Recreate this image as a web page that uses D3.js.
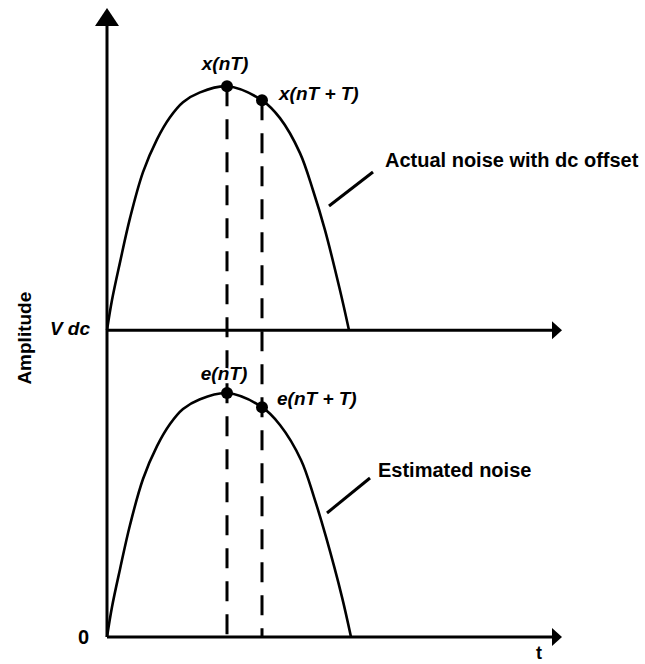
<!DOCTYPE html>
<html>
<head>
<meta charset="utf-8">
<script src="https://cdn.jsdelivr.net/npm/d3@7"></script>
<style>
  html, body { margin: 0; padding: 0; background: #fff; }
  svg { display: block; }
  text { font-family: "Liberation Sans", Arial, Helvetica, sans-serif; font-weight: bold; fill: #000; }
</style>
</head>
<body>
<svg id="chart" width="645" height="664"></svg>
<script>
// Sample times (in units of the sampling grid) along the noise burst
const actualTime     = [0, 0.05, 0.13, 0.23, 0.36, 0.50, 0.63, 0.76, 0.93, 1.20, 1.55, 1.73, 1.93, 2.06, 2.18, 2.33, 2.42];
// Noise amplitude above the dc level (relative to Vdc = 1)
const actualNoise    = [0, 0.098, 0.221, 0.365, 0.515, 0.622, 0.694, 0.743, 0.775, 0.795, 0.749, 0.691, 0.577, 0.456, 0.326, 0.130, 0];
const estimatedTime  = [0, 0.05, 0.13, 0.23, 0.36, 0.50, 0.63, 0.76, 0.93, 1.20, 1.55, 1.73, 1.94, 2.07, 2.19, 2.35, 2.44];
const estimatedNoise = [0, 0.098, 0.221, 0.365, 0.515, 0.622, 0.694, 0.743, 0.775, 0.795, 0.749, 0.691, 0.577, 0.456, 0.326, 0.130, 0];
const dcOffset = 1.0;
// Sample instants nT and nT + T (indices into the sample arrays)
const sampleIdx = [9, 10];
const sampleLabelsActual = ["x(nT)", "x(nT + T)"];
const sampleLabelsEst = ["e(nT)", "e(nT + T)"];
const yTickLabels = ["0", "V dc"];
const tMax = 4.55, aMax = 2.05;

const svg = d3.select("#chart");
const x = d3.scaleLinear().domain([0, tMax]).range([107, 562]);
const y = d3.scaleLinear().domain([0, aMax]).range([637, 8]);

const ink = "#000";

// Axes: vertical amplitude axis and two time axes (dc level and zero)
svg.append("line")
  .attr("x1", x(0)).attr("x2", x(0))
  .attr("y1", y(0)).attr("y2", y(aMax) + 14)
  .attr("stroke", ink).attr("stroke-width", 3);
svg.append("path")
  .attr("d", `M${x(0)},${y(aMax)} L${x(0) - 12},${y(aMax) + 18} L${x(0) + 12},${y(aMax) + 18} Z`)
  .attr("fill", ink);

[0, dcOffset].forEach(level => {
  svg.append("line")
    .attr("x1", x(0)).attr("x2", x(tMax) - 6)
    .attr("y1", y(level)).attr("y2", y(level))
    .attr("stroke", ink).attr("stroke-width", 3);
  svg.append("path")
    .attr("d", `M${x(tMax)},${y(level)} L${x(tMax) - 10},${y(level) - 9} L${x(tMax) - 10},${y(level) + 9} Z`)
    .attr("fill", ink);
});

// Noise curves
const line = d3.line().curve(d3.curveCatmullRom.alpha(0.5));
const actualPts = actualTime.map((t, i) => [x(t), y(dcOffset + actualNoise[i])]);
const estPts = estimatedTime.map((t, i) => [x(t), y(estimatedNoise[i])]);

svg.append("path").attr("d", line(actualPts))
  .attr("fill", "none").attr("stroke", ink).attr("stroke-width", 2.6);
svg.append("path").attr("d", line(estPts))
  .attr("fill", "none").attr("stroke", ink).attr("stroke-width", 2.6);

// Dashed sample lines from the upper samples down to the time axis
sampleIdx.forEach(i => {
  svg.append("line")
    .attr("x1", x(actualTime[i])).attr("x2", x(actualTime[i]))
    .attr("y1", y(dcOffset + actualNoise[i])).attr("y2", y(0))
    .attr("stroke", ink).attr("stroke-width", 3)
    .attr("stroke-dasharray", "20 13");
});

// Sample dots
sampleIdx.forEach(i => {
  svg.append("circle").attr("cx", x(actualTime[i])).attr("cy", y(dcOffset + actualNoise[i]))
    .attr("r", 6).attr("fill", ink);
  svg.append("circle").attr("cx", x(estimatedTime[i])).attr("cy", y(estimatedNoise[i]))
    .attr("r", 6).attr("fill", ink);
});

// Sample labels
function sampleLabel(txt, px, py, anchor) {
  svg.append("text")
    .attr("x", px).attr("y", py)
    .attr("text-anchor", anchor)
    .attr("font-size", 19)
    .attr("font-style", "italic")
    .attr("stroke", "#fff").attr("stroke-width", 4).attr("paint-order", "stroke")
    .text(txt);
}
sampleLabel(sampleLabelsActual[0], x(actualTime[sampleIdx[0]]) - 2, y(dcOffset + actualNoise[sampleIdx[0]]) - 16, "middle");
sampleLabel(sampleLabelsActual[1], x(actualTime[sampleIdx[1]]) + 17, y(dcOffset + actualNoise[sampleIdx[1]]) + 0, "start");
sampleLabel(sampleLabelsEst[0], x(estimatedTime[sampleIdx[0]]) - 3, y(estimatedNoise[sampleIdx[0]]) - 13, "middle");
sampleLabel(sampleLabelsEst[1], x(estimatedTime[sampleIdx[1]]) + 15, y(estimatedNoise[sampleIdx[1]]) - 2, "start");

// Curve annotations with leader lines
svg.append("line").attr("x1", 329).attr("y1", 206).attr("x2", 373).attr("y2", 172)
  .attr("stroke", ink).attr("stroke-width", 3);
svg.append("text").attr("x", 385).attr("y", 167).attr("font-size", 20)
  .text("Actual noise with dc offset");

svg.append("line").attr("x1", 327).attr("y1", 513).attr("x2", 370).attr("y2", 478)
  .attr("stroke", ink).attr("stroke-width", 3);
svg.append("text").attr("x", 378).attr("y", 477).attr("font-size", 20)
  .text("Estimated noise");

// Axis labels
svg.append("text").attr("x", 89).attr("y", y(0) + 7).attr("text-anchor", "end")
  .attr("font-size", 20).text(yTickLabels[0]);
svg.append("text").attr("x", 90).attr("y", y(dcOffset) + 5).attr("text-anchor", "end")
  .attr("font-size", 19).attr("font-style", "italic").text(yTickLabels[1]);
svg.append("text").attr("x", 539).attr("y", 659).attr("text-anchor", "middle")
  .attr("font-size", 18).text("t");
svg.append("text")
  .attr("transform", `translate(31, ${y(dcOffset) + 8}) rotate(-90)`)
  .attr("text-anchor", "middle").attr("font-size", 19)
  .text("Amplitude");
</script>
</body>
</html>
